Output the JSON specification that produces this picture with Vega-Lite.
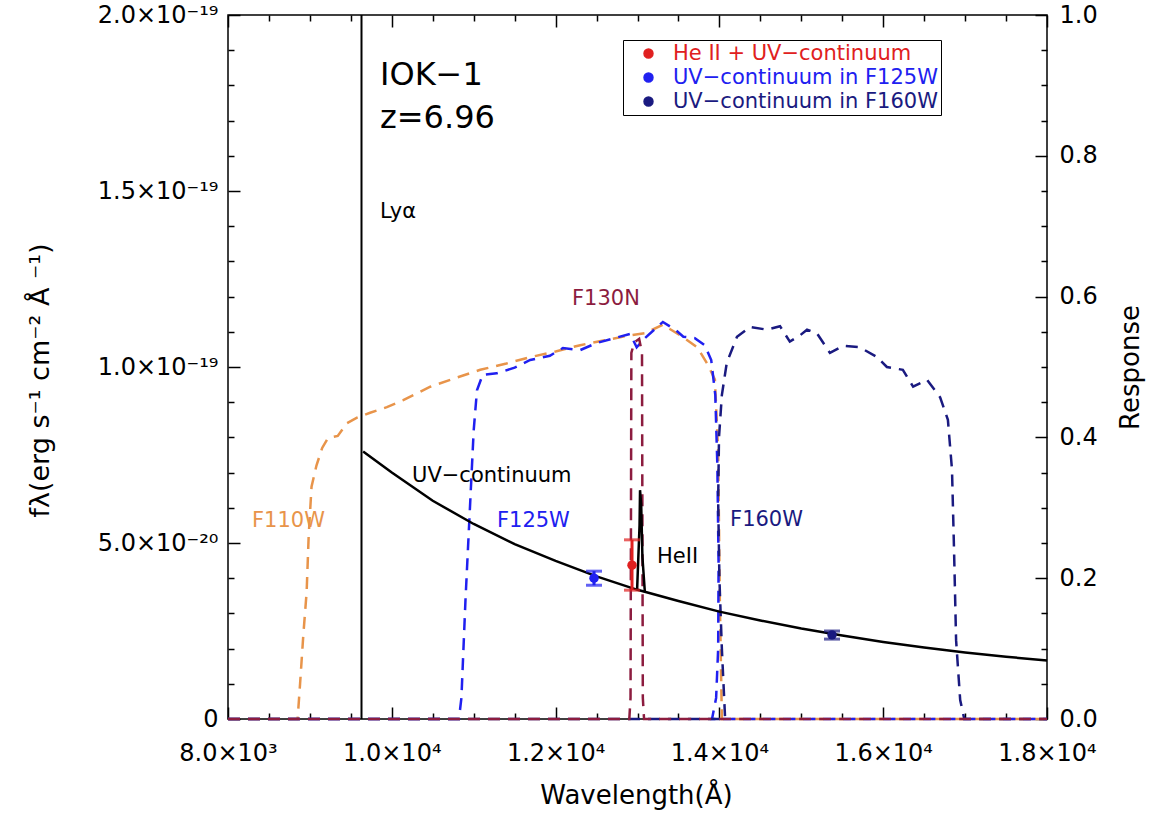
{
  "$schema": "https://vega.github.io/schema/vega-lite/v6.json",
  "width": 819,
  "height": 704,
  "autosize": {"type": "none"},
  "padding": {"left": 228, "top": 15, "right": 120, "bottom": 99},
  "background": "white",
  "config": {
    "view": {"stroke": "black", "strokeWidth": 1.5},
    "font": "DejaVu Sans",
    "axis": {"domain": false, "grid": false, "tickColor": "black", "tickWidth": 1.5, "labelColor": "black", "labelFont": "DejaVu Sans", "labelFontSize": 24, "titleFont": "DejaVu Sans", "titleFontSize": 24, "titleFontWeight": "normal", "titleColor": "black", "labelOverlap": false, "labelFlush": false},
    "legend": {"labelFont": "DejaVu Sans", "labelFontSize": 21, "labelLimit": 500}
  },
  "datasets": {
    "filters": [
      {"filter": "F110W", "i": 0, "wave": 8000, "resp": 0},
      {"filter": "F110W", "i": 1, "wave": 8850, "resp": 0},
      {"filter": "F110W", "i": 2, "wave": 8880, "resp": 0.05},
      {"filter": "F110W", "i": 3, "wave": 8920, "resp": 0.12},
      {"filter": "F110W", "i": 4, "wave": 8960, "resp": 0.18},
      {"filter": "F110W", "i": 5, "wave": 8985, "resp": 0.26},
      {"filter": "F110W", "i": 6, "wave": 9020, "resp": 0.33},
      {"filter": "F110W", "i": 7, "wave": 9080, "resp": 0.36},
      {"filter": "F110W", "i": 8, "wave": 9150, "resp": 0.385},
      {"filter": "F110W", "i": 9, "wave": 9220, "resp": 0.399},
      {"filter": "F110W", "i": 10, "wave": 9340, "resp": 0.402},
      {"filter": "F110W", "i": 11, "wave": 9450, "resp": 0.42},
      {"filter": "F110W", "i": 12, "wave": 9575, "resp": 0.428},
      {"filter": "F110W", "i": 13, "wave": 9735, "resp": 0.435},
      {"filter": "F110W", "i": 14, "wave": 9940, "resp": 0.443},
      {"filter": "F110W", "i": 15, "wave": 10140, "resp": 0.453},
      {"filter": "F110W", "i": 16, "wave": 10470, "resp": 0.472},
      {"filter": "F110W", "i": 17, "wave": 10770, "resp": 0.484},
      {"filter": "F110W", "i": 18, "wave": 11080, "resp": 0.496},
      {"filter": "F110W", "i": 19, "wave": 11400, "resp": 0.505},
      {"filter": "F110W", "i": 20, "wave": 11690, "resp": 0.514},
      {"filter": "F110W", "i": 21, "wave": 12000, "resp": 0.522},
      {"filter": "F110W", "i": 22, "wave": 12300, "resp": 0.531},
      {"filter": "F110W", "i": 23, "wave": 12600, "resp": 0.538},
      {"filter": "F110W", "i": 24, "wave": 12910, "resp": 0.545},
      {"filter": "F110W", "i": 25, "wave": 13090, "resp": 0.548},
      {"filter": "F110W", "i": 26, "wave": 13310, "resp": 0.56},
      {"filter": "F110W", "i": 27, "wave": 13520, "resp": 0.545},
      {"filter": "F110W", "i": 28, "wave": 13730, "resp": 0.528},
      {"filter": "F110W", "i": 29, "wave": 13860, "resp": 0.503},
      {"filter": "F110W", "i": 30, "wave": 13945, "resp": 0.482},
      {"filter": "F110W", "i": 31, "wave": 13985, "resp": 0.38},
      {"filter": "F110W", "i": 32, "wave": 14005, "resp": 0.17},
      {"filter": "F110W", "i": 33, "wave": 14030, "resp": 0},
      {"filter": "F110W", "i": 34, "wave": 18000, "resp": 0},
      {"filter": "F125W", "i": 0, "wave": 8000, "resp": 0},
      {"filter": "F125W", "i": 1, "wave": 10820, "resp": 0},
      {"filter": "F125W", "i": 2, "wave": 10850, "resp": 0.03},
      {"filter": "F125W", "i": 3, "wave": 10900, "resp": 0.17},
      {"filter": "F125W", "i": 4, "wave": 10950, "resp": 0.29},
      {"filter": "F125W", "i": 5, "wave": 11000, "resp": 0.41},
      {"filter": "F125W", "i": 6, "wave": 11040, "resp": 0.467},
      {"filter": "F125W", "i": 7, "wave": 11110, "resp": 0.489},
      {"filter": "F125W", "i": 8, "wave": 11280, "resp": 0.491},
      {"filter": "F125W", "i": 9, "wave": 11500, "resp": 0.499},
      {"filter": "F125W", "i": 10, "wave": 11690, "resp": 0.51},
      {"filter": "F125W", "i": 11, "wave": 11930, "resp": 0.516},
      {"filter": "F125W", "i": 12, "wave": 12090, "resp": 0.527},
      {"filter": "F125W", "i": 13, "wave": 12300, "resp": 0.524},
      {"filter": "F125W", "i": 14, "wave": 12500, "resp": 0.534},
      {"filter": "F125W", "i": 15, "wave": 12720, "resp": 0.541},
      {"filter": "F125W", "i": 16, "wave": 12910, "resp": 0.547},
      {"filter": "F125W", "i": 17, "wave": 12990, "resp": 0.528},
      {"filter": "F125W", "i": 18, "wave": 13090, "resp": 0.541},
      {"filter": "F125W", "i": 19, "wave": 13310, "resp": 0.564},
      {"filter": "F125W", "i": 20, "wave": 13460, "resp": 0.553},
      {"filter": "F125W", "i": 21, "wave": 13560, "resp": 0.543},
      {"filter": "F125W", "i": 22, "wave": 13700, "resp": 0.541},
      {"filter": "F125W", "i": 23, "wave": 13820, "resp": 0.531},
      {"filter": "F125W", "i": 24, "wave": 13900, "resp": 0.51},
      {"filter": "F125W", "i": 25, "wave": 13950, "resp": 0.46},
      {"filter": "F125W", "i": 26, "wave": 13975, "resp": 0.36},
      {"filter": "F125W", "i": 27, "wave": 13990, "resp": 0.22},
      {"filter": "F125W", "i": 28, "wave": 13985, "resp": 0.1},
      {"filter": "F125W", "i": 29, "wave": 13960, "resp": 0.03},
      {"filter": "F125W", "i": 30, "wave": 13910, "resp": 0},
      {"filter": "F125W", "i": 31, "wave": 18000, "resp": 0},
      {"filter": "F160W", "i": 0, "wave": 8000, "resp": 0},
      {"filter": "F160W", "i": 1, "wave": 14070, "resp": 0},
      {"filter": "F160W", "i": 2, "wave": 14050, "resp": 0.05},
      {"filter": "F160W", "i": 3, "wave": 14030, "resp": 0.1},
      {"filter": "F160W", "i": 4, "wave": 14000, "resp": 0.2},
      {"filter": "F160W", "i": 5, "wave": 13985, "resp": 0.31},
      {"filter": "F160W", "i": 6, "wave": 13995, "resp": 0.4},
      {"filter": "F160W", "i": 7, "wave": 14030, "resp": 0.46},
      {"filter": "F160W", "i": 8, "wave": 14090, "resp": 0.506},
      {"filter": "F160W", "i": 9, "wave": 14215, "resp": 0.543},
      {"filter": "F160W", "i": 10, "wave": 14375, "resp": 0.557},
      {"filter": "F160W", "i": 11, "wave": 14580, "resp": 0.553},
      {"filter": "F160W", "i": 12, "wave": 14740, "resp": 0.558},
      {"filter": "F160W", "i": 13, "wave": 14860, "resp": 0.536},
      {"filter": "F160W", "i": 14, "wave": 14985, "resp": 0.545},
      {"filter": "F160W", "i": 15, "wave": 15070, "resp": 0.553},
      {"filter": "F160W", "i": 16, "wave": 15190, "resp": 0.548},
      {"filter": "F160W", "i": 17, "wave": 15350, "resp": 0.52},
      {"filter": "F160W", "i": 18, "wave": 15510, "resp": 0.53},
      {"filter": "F160W", "i": 19, "wave": 15715, "resp": 0.528},
      {"filter": "F160W", "i": 20, "wave": 15925, "resp": 0.514},
      {"filter": "F160W", "i": 21, "wave": 16045, "resp": 0.5},
      {"filter": "F160W", "i": 22, "wave": 16240, "resp": 0.496},
      {"filter": "F160W", "i": 23, "wave": 16365, "resp": 0.472},
      {"filter": "F160W", "i": 24, "wave": 16535, "resp": 0.482},
      {"filter": "F160W", "i": 25, "wave": 16695, "resp": 0.457},
      {"filter": "F160W", "i": 26, "wave": 16790, "resp": 0.425},
      {"filter": "F160W", "i": 27, "wave": 16840, "resp": 0.354},
      {"filter": "F160W", "i": 28, "wave": 16865, "resp": 0.24},
      {"filter": "F160W", "i": 29, "wave": 16890, "resp": 0.112},
      {"filter": "F160W", "i": 30, "wave": 16940, "resp": 0.027},
      {"filter": "F160W", "i": 31, "wave": 16990, "resp": 0},
      {"filter": "F160W", "i": 32, "wave": 18000, "resp": 0},
      {"filter": "F130N", "i": 0, "wave": 8000, "resp": 0},
      {"filter": "F130N", "i": 1, "wave": 12900, "resp": 0},
      {"filter": "F130N", "i": 2, "wave": 12915, "resp": 0.03},
      {"filter": "F130N", "i": 3, "wave": 12925, "resp": 0.52},
      {"filter": "F130N", "i": 4, "wave": 12960, "resp": 0.535},
      {"filter": "F130N", "i": 5, "wave": 13020, "resp": 0.54},
      {"filter": "F130N", "i": 6, "wave": 13055, "resp": 0.52},
      {"filter": "F130N", "i": 7, "wave": 13065, "resp": 0.03},
      {"filter": "F130N", "i": 8, "wave": 13080, "resp": 0},
      {"filter": "F130N", "i": 9, "wave": 18000, "resp": 0}
    ],
    "continuum": [
      {"wave": 9650, "flux": 7.6e-20},
      {"wave": 10000, "flux": 7.0e-20},
      {"wave": 10500, "flux": 6.2e-20},
      {"wave": 11000, "flux": 5.54e-20},
      {"wave": 11500, "flux": 4.97e-20},
      {"wave": 12000, "flux": 4.49e-20},
      {"wave": 12500, "flux": 4.05e-20},
      {"wave": 13000, "flux": 3.67e-20},
      {"wave": 13500, "flux": 3.35e-20},
      {"wave": 14000, "flux": 3.05e-20},
      {"wave": 14500, "flux": 2.8e-20},
      {"wave": 15000, "flux": 2.57e-20},
      {"wave": 15500, "flux": 2.37e-20},
      {"wave": 16000, "flux": 2.19e-20},
      {"wave": 16500, "flux": 2.03e-20},
      {"wave": 17000, "flux": 1.89e-20},
      {"wave": 17500, "flux": 1.77e-20},
      {"wave": 18000, "flux": 1.66e-20}
    ],
    "heii": [
      {"wave": 12995, "flux": 3.66e-20},
      {"wave": 13025, "flux": 5.5e-20},
      {"wave": 13031, "flux": 6.5e-20},
      {"wave": 13045, "flux": 6.1e-20},
      {"wave": 13060, "flux": 4.6e-20},
      {"wave": 13090, "flux": 3.6e-20}
    ],
    "lya": [{"wave": 9630}],
    "phot": [
      {"band": "He II + UV−continuum", "wave": 12933, "flux": 4.37e-20, "lo": 3.66e-20, "hi": 5.09e-20},
      {"band": "UV−continuum in F125W", "wave": 12469, "flux": 4.0e-20, "lo": 3.8e-20, "hi": 4.2e-20},
      {"band": "UV−continuum in F160W", "wave": 15375, "flux": 2.39e-20, "lo": 2.27e-20, "hi": 2.5e-20}
    ],
    "bigtext": [
      {"text": "IOK−1", "wave": 9856, "flux": 1.83e-19},
      {"text": "z=6.96", "wave": 9856, "flux": 1.707e-19}
    ],
    "notes": [
      {"text": "Lyα", "wave": 9856, "flux": 1.44e-19},
      {"text": "UV−continuum", "wave": 10247, "flux": 6.9e-20},
      {"text": "HeII", "wave": 13238, "flux": 4.6e-20}
    ],
    "filterlabels": [
      {"filter": "F110W", "wave": 8293, "flux": 5.62e-20},
      {"filter": "F125W", "wave": 11284, "flux": 5.62e-20},
      {"filter": "F160W", "wave": 14130, "flux": 5.65e-20},
      {"filter": "F130N", "wave": 12200, "flux": 1.193e-19}
    ]
  },
  "layer": [
    {
      "data": {"name": "filters"},
      "transform": [{"filter": "datum.filter === 'F110W'"}],
      "mark": {"type": "line", "color": "#E8944A", "strokeWidth": 2.5, "strokeDash": [12, 8]},
      "encoding": {
        "x": {"field": "wave", "type": "quantitative", "scale": {"domain": [8000, 18000], "nice": false, "zero": false},
              "axis": {"orient": "top", "values": [8000, 10000, 12000, 14000, 16000, 18000], "tickSize": -12, "labels": false, "title": null}},
        "y": {"field": "resp", "type": "quantitative", "scale": {"domain": [0, 1], "nice": false},
              "axis": {"orient": "right", "values": [0, 0.2, 0.4, 0.6, 0.8, 1.0], "tickSize": -12, "labelPadding": 24, "format": ".1f", "labelBaseline": "middle",
                       "title": "Response", "titleAngle": -90, "titleX": 83, "titleY": 352, "titleBaseline": "middle", "titleAlign": "center", "titleFontSize": 26}},
        "order": {"field": "i", "type": "quantitative"}
      }
    },
    {
      "data": {"name": "filters"},
      "transform": [{"filter": "datum.filter === 'F125W'"}],
      "mark": {"type": "line", "color": "#2020F0", "strokeWidth": 2.5, "strokeDash": [12, 8]},
      "encoding": {
        "x": {"field": "wave", "type": "quantitative", "scale": {"domain": [8000, 18000], "nice": false, "zero": false},
              "axis": {"orient": "top", "values": [8500, 9000, 9500, 10500, 11000, 11500, 12500, 13000, 13500, 14500, 15000, 15500, 16500, 17000, 17500], "tickSize": -6, "labels": false, "title": null}},
        "y": {"field": "resp", "type": "quantitative", "scale": {"domain": [0, 1], "nice": false},
              "axis": {"orient": "right", "values": [0.05, 0.1, 0.15, 0.25, 0.3, 0.35, 0.45, 0.5, 0.55, 0.65, 0.7, 0.75, 0.85, 0.9, 0.95], "tickSize": -6, "labels": false, "title": null}},
        "order": {"field": "i", "type": "quantitative"}
      }
    },
    {
      "data": {"name": "filters"},
      "transform": [{"filter": "datum.filter === 'F160W'"}],
      "mark": {"type": "line", "color": "#1A1A80", "strokeWidth": 2.5, "strokeDash": [12, 8]},
      "encoding": {
        "x": {"field": "wave", "type": "quantitative", "scale": {"domain": [8000, 18000], "nice": false, "zero": false}, "axis": null},
        "y": {"field": "resp", "type": "quantitative", "scale": {"domain": [0, 1], "nice": false}, "axis": null},
        "order": {"field": "i", "type": "quantitative"}
      }
    },
    {
      "data": {"name": "filters"},
      "transform": [{"filter": "datum.filter === 'F130N'"}],
      "mark": {"type": "line", "color": "#8C1C3F", "strokeWidth": 2.5, "strokeDash": [12, 8]},
      "encoding": {
        "x": {"field": "wave", "type": "quantitative", "scale": {"domain": [8000, 18000], "nice": false, "zero": false}, "axis": null},
        "y": {"field": "resp", "type": "quantitative", "scale": {"domain": [0, 1], "nice": false}, "axis": null},
        "order": {"field": "i", "type": "quantitative"}
      }
    },
    {
      "data": {"name": "lya"},
      "mark": {"type": "rule", "color": "black", "strokeWidth": 2},
      "encoding": {
        "x": {"field": "wave", "type": "quantitative", "scale": {"domain": [8000, 18000], "nice": false, "zero": false},
              "axis": {"orient": "bottom", "values": [8000, 10000, 12000, 14000, 16000, 18000], "tickSize": -12, "labelPadding": 34,
                       "labelExpr": "datum.value < 9000 ? '8.0×10³' : format(datum.value / 10000, '.1f') + '×10⁴'",
                       "title": "Wavelength(Å)", "titleX": 408, "titleY": 76, "titleBaseline": "middle", "titleAlign": "center", "titleFontSize": 26}}
      }
    },
    {
      "data": {"name": "continuum"},
      "mark": {"type": "line", "color": "black", "strokeWidth": 2.5},
      "encoding": {
        "x": {"field": "wave", "type": "quantitative", "scale": {"domain": [8000, 18000], "nice": false, "zero": false},
              "axis": {"orient": "bottom", "values": [8500, 9000, 9500, 10500, 11000, 11500, 12500, 13000, 13500, 14500, 15000, 15500, 16500, 17000, 17500], "tickSize": -6, "labels": false, "title": null}},
        "y": {"field": "flux", "type": "quantitative", "scale": {"domain": [0, 2e-19], "nice": false},
              "axis": {"orient": "left", "values": [0, 5e-20, 1e-19, 1.5e-19, 2e-19], "tickSize": -12, "labelPadding": 22,
                       "labelExpr": "datum.value == 0 ? '0' : (datum.value < 7e-20 ? '5.0×10⁻²⁰' : format(datum.value * 1e19, '.1f') + '×10⁻¹⁹')",
                       "title": "fλ(erg s⁻¹ cm⁻² Å ⁻¹)", "titleAngle": -90, "titleX": -188, "titleY": 365, "titleBaseline": "middle", "titleAlign": "center", "titleFontSize": 27}}
      }
    },
    {
      "data": {"name": "heii"},
      "mark": {"type": "line", "color": "black", "strokeWidth": 2.5},
      "encoding": {
        "x": {"field": "wave", "type": "quantitative", "scale": {"domain": [8000, 18000], "nice": false, "zero": false}, "axis": null},
        "y": {"field": "flux", "type": "quantitative", "scale": {"domain": [0, 2e-19], "nice": false},
              "axis": {"orient": "left", "values": [1e-20, 2e-20, 3e-20, 4e-20, 6e-20, 7e-20, 8e-20, 9e-20, 1.1e-19, 1.2e-19, 1.3e-19, 1.4e-19, 1.6e-19, 1.7e-19, 1.8e-19, 1.9e-19], "tickSize": -6, "labels": false, "title": null}}
      }
    },
    {
      "data": {"name": "phot"},
      "mark": {"type": "point", "filled": true, "shape": "circle", "size": 90, "opacity": 1},
      "encoding": {
        "x": {"field": "wave", "type": "quantitative", "scale": {"domain": [8000, 18000], "nice": false, "zero": false}, "axis": null},
        "y": {"field": "flux", "type": "quantitative", "scale": {"domain": [0, 2e-19], "nice": false}, "axis": null},
        "color": {"field": "band", "type": "nominal", "scale": {"domain": ["He II + UV−continuum", "UV−continuum in F125W", "UV−continuum in F160W"], "range": ["#E02020", "#2020F0", "#1A1A80"]},
                  "legend": {"title": null, "orient": "none", "legendX": 395, "legendY": 25, "strokeColor": "black", "fillColor": "white", "padding": 3,
                             "symbolOffset": 12, "labelOffset": 14, "rowPadding": 2, "labelFontSize": 21, "labelLimit": 500,
                             "symbolSize": 80, "symbolType": "circle",
                             "labelColor": {"expr": "datum.value == 'He II + UV−continuum' ? '#E02020' : (datum.value == 'UV−continuum in F125W' ? '#2020F0' : '#1A1A80')"}}}
      }
    },
    {
      "data": {"name": "phot"},
      "mark": {"type": "rule", "strokeWidth": 3},
      "encoding": {
        "x": {"field": "wave", "type": "quantitative", "scale": {"domain": [8000, 18000], "nice": false, "zero": false}, "axis": null},
        "y": {"field": "lo", "type": "quantitative", "scale": {"domain": [0, 2e-19], "nice": false}, "axis": null},
        "y2": {"field": "hi"},
        "stroke": {"field": "band", "type": "nominal", "scale": {"domain": ["He II + UV−continuum", "UV−continuum in F125W", "UV−continuum in F160W"], "range": ["#E02020", "#2020F0", "#1A1A80"]}, "legend": null}
      }
    },
    {
      "data": {"name": "phot"},
      "mark": {"type": "tick", "orient": "horizontal", "size": 16, "thickness": 3},
      "encoding": {
        "x": {"field": "wave", "type": "quantitative", "scale": {"domain": [8000, 18000], "nice": false, "zero": false}, "axis": null},
        "y": {"field": "lo", "type": "quantitative", "scale": {"domain": [0, 2e-19], "nice": false}, "axis": null},
        "fill": {"field": "band", "type": "nominal", "scale": {"domain": ["He II + UV−continuum", "UV−continuum in F125W", "UV−continuum in F160W"], "range": ["#E02020", "#2020F0", "#1A1A80"]}, "legend": null}
      }
    },
    {
      "data": {"name": "phot"},
      "mark": {"type": "tick", "orient": "horizontal", "size": 16, "thickness": 3},
      "encoding": {
        "x": {"field": "wave", "type": "quantitative", "scale": {"domain": [8000, 18000], "nice": false, "zero": false}, "axis": null},
        "y": {"field": "hi", "type": "quantitative", "scale": {"domain": [0, 2e-19], "nice": false}, "axis": null},
        "fill": {"field": "band", "type": "nominal", "scale": {"domain": ["He II + UV−continuum", "UV−continuum in F125W", "UV−continuum in F160W"], "range": ["#E02020", "#2020F0", "#1A1A80"]}, "legend": null}
      }
    },
    {
      "data": {"name": "bigtext"},
      "mark": {"type": "text", "align": "left", "baseline": "middle", "fontSize": 32, "color": "black", "font": "DejaVu Sans"},
      "encoding": {
        "x": {"field": "wave", "type": "quantitative", "scale": {"domain": [8000, 18000], "nice": false, "zero": false}, "axis": null},
        "y": {"field": "flux", "type": "quantitative", "scale": {"domain": [0, 2e-19], "nice": false}, "axis": null},
        "text": {"field": "text"}
      }
    },
    {
      "data": {"name": "notes"},
      "mark": {"type": "text", "align": "left", "baseline": "middle", "fontSize": 21, "color": "black", "font": "DejaVu Sans"},
      "encoding": {
        "x": {"field": "wave", "type": "quantitative", "scale": {"domain": [8000, 18000], "nice": false, "zero": false}, "axis": null},
        "y": {"field": "flux", "type": "quantitative", "scale": {"domain": [0, 2e-19], "nice": false}, "axis": null},
        "text": {"field": "text"}
      }
    },
    {
      "data": {"name": "filterlabels"},
      "transform": [{"filter": "datum.filter === 'F110W'"}],
      "mark": {"type": "text", "align": "left", "baseline": "middle", "fontSize": 21, "color": "#E8944A", "font": "DejaVu Sans"},
      "encoding": {
        "x": {"field": "wave", "type": "quantitative", "scale": {"domain": [8000, 18000], "nice": false, "zero": false}, "axis": null},
        "y": {"field": "flux", "type": "quantitative", "scale": {"domain": [0, 2e-19], "nice": false}, "axis": null},
        "text": {"field": "filter"}
      }
    },
    {
      "data": {"name": "filterlabels"},
      "transform": [{"filter": "datum.filter === 'F125W'"}],
      "mark": {"type": "text", "align": "left", "baseline": "middle", "fontSize": 21, "color": "#2020F0", "font": "DejaVu Sans"},
      "encoding": {
        "x": {"field": "wave", "type": "quantitative", "scale": {"domain": [8000, 18000], "nice": false, "zero": false}, "axis": null},
        "y": {"field": "flux", "type": "quantitative", "scale": {"domain": [0, 2e-19], "nice": false}, "axis": null},
        "text": {"field": "filter"}
      }
    },
    {
      "data": {"name": "filterlabels"},
      "transform": [{"filter": "datum.filter === 'F160W'"}],
      "mark": {"type": "text", "align": "left", "baseline": "middle", "fontSize": 21, "color": "#1A1A80", "font": "DejaVu Sans"},
      "encoding": {
        "x": {"field": "wave", "type": "quantitative", "scale": {"domain": [8000, 18000], "nice": false, "zero": false}, "axis": null},
        "y": {"field": "flux", "type": "quantitative", "scale": {"domain": [0, 2e-19], "nice": false}, "axis": null},
        "text": {"field": "filter"}
      }
    },
    {
      "data": {"name": "filterlabels"},
      "transform": [{"filter": "datum.filter === 'F130N'"}],
      "mark": {"type": "text", "align": "left", "baseline": "middle", "fontSize": 21, "color": "#8C1C3F", "font": "DejaVu Sans"},
      "encoding": {
        "x": {"field": "wave", "type": "quantitative", "scale": {"domain": [8000, 18000], "nice": false, "zero": false}, "axis": null},
        "y": {"field": "flux", "type": "quantitative", "scale": {"domain": [0, 2e-19], "nice": false}, "axis": null},
        "text": {"field": "filter"}
      }
    }
  ],
  "resolve": {"scale": {"y": "independent"}, "axis": {"x": "independent", "y": "independent"}}
}
